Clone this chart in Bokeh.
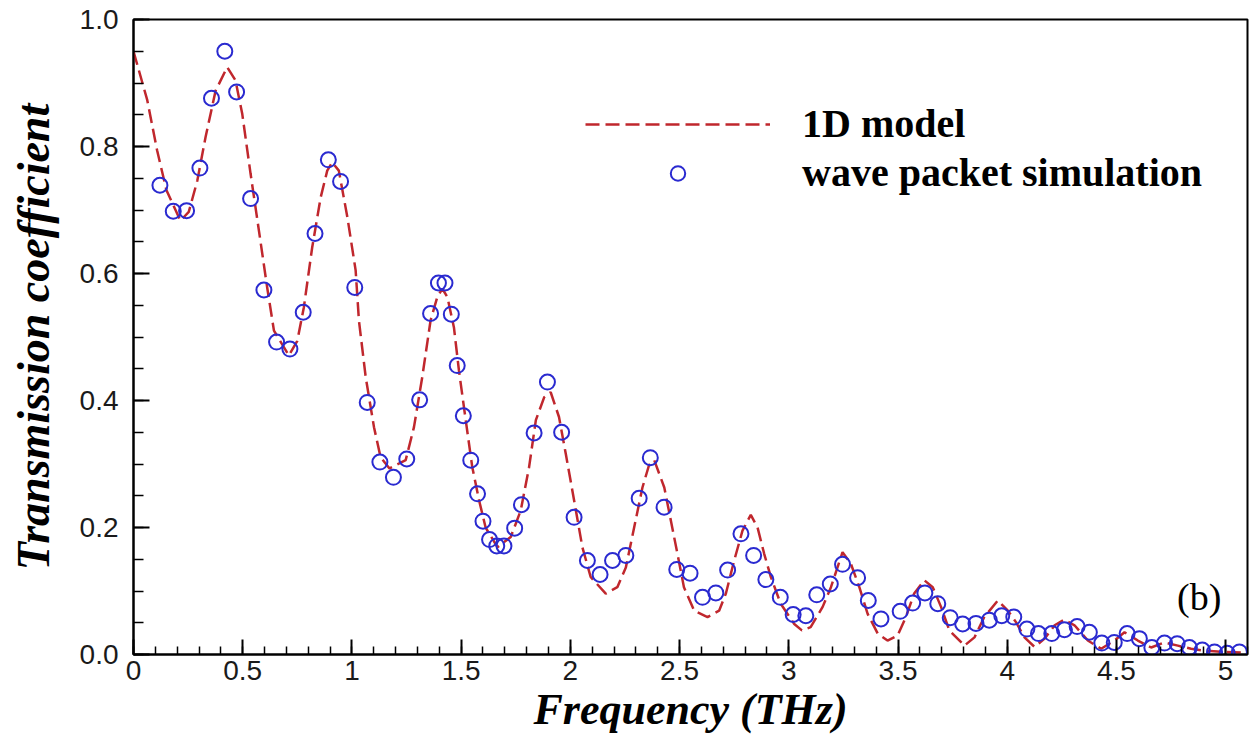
from bokeh.plotting import figure
from bokeh.models import FixedTicker, Legend, LegendItem, Label, ColumnDataSource
from bokeh.embed import file_html
from bokeh.resources import INLINE

# ---- data: wave packet simulation (circles) ----
sim_freq = [0.121, 0.182, 0.243, 0.304, 0.357, 0.418, 0.472, 0.536, 0.597, 0.655,
            0.716, 0.777, 0.831, 0.892, 0.948, 1.013, 1.070, 1.128, 1.190, 1.251,
            1.310, 1.360, 1.396, 1.426, 1.455, 1.482, 1.510, 1.544, 1.575, 1.600,
            1.630, 1.663, 1.696, 1.745, 1.776, 1.834, 1.895, 1.960, 2.017, 2.078,
            2.136, 2.193, 2.254, 2.315, 2.366, 2.429, 2.487, 2.548, 2.605, 2.666,
            2.720, 2.781, 2.839, 2.895, 2.961, 3.020, 3.078, 3.128, 3.190, 3.246,
            3.315, 3.364, 3.422, 3.510, 3.567, 3.623, 3.682, 3.739, 3.796, 3.857,
            3.918, 3.975, 4.030, 4.090, 4.143, 4.204, 4.262, 4.320, 4.376, 4.433,
            4.490, 4.549, 4.605, 4.662, 4.720, 4.778, 4.834, 4.893, 4.949, 5.007,
            5.063]
sim_trans = [0.739, 0.698, 0.699, 0.766, 0.876, 0.950, 0.886, 0.718, 0.574, 0.492,
             0.481, 0.539, 0.663, 0.779, 0.745, 0.578, 0.397, 0.303, 0.279, 0.308,
             0.401, 0.537, 0.585, 0.585, 0.536, 0.455, 0.376, 0.306, 0.253, 0.210,
             0.181, 0.171, 0.171, 0.199, 0.236, 0.349, 0.429, 0.350, 0.216, 0.148,
             0.126, 0.148, 0.156, 0.246, 0.310, 0.232, 0.134, 0.128, 0.090, 0.097,
             0.133, 0.190, 0.156, 0.118, 0.090, 0.063, 0.061, 0.094, 0.111, 0.142,
             0.121, 0.085, 0.056, 0.068, 0.081, 0.097, 0.080, 0.058, 0.048, 0.049,
             0.054, 0.061, 0.059, 0.040, 0.033, 0.033, 0.039, 0.044, 0.035, 0.018,
             0.019, 0.033, 0.025, 0.011, 0.018, 0.017, 0.011, 0.007, 0.004, 0.002,
             0.004]

# ---- data: 1D model (dashed line) ----
model_freq = [0.000, 0.063, 0.108, 0.151, 0.215, 0.253, 0.292, 0.330, 0.376, 0.429,
              0.467, 0.498, 0.536, 0.574, 0.612, 0.643, 0.711, 0.750, 0.780, 0.818,
              0.857, 0.887, 0.910, 0.940, 0.979, 1.017, 1.032, 1.063, 1.101, 1.131,
              1.172, 1.246, 1.284, 1.322, 1.360, 1.391, 1.414, 1.437, 1.467, 1.490,
              1.521, 1.551, 1.582, 1.612, 1.666, 1.727, 1.773, 1.811, 1.842, 1.880,
              1.910, 1.948, 1.979, 2.017, 2.055, 2.093, 2.162, 2.215, 2.254, 2.292,
              2.330, 2.360, 2.384, 2.430, 2.460, 2.490, 2.520, 2.567, 2.628, 2.681,
              2.712, 2.750, 2.788, 2.826, 2.857, 2.887, 2.918, 2.963, 3.025, 3.060,
              3.100, 3.155, 3.193, 3.246, 3.284, 3.323, 3.361, 3.407, 3.452, 3.498,
              3.536, 3.574, 3.620, 3.659, 3.697, 3.735, 3.804, 3.850, 3.895, 3.957,
              4.003, 4.040, 4.079, 4.125, 4.171, 4.217, 4.262, 4.308, 4.369, 4.430,
              4.491, 4.537, 4.598, 4.659, 4.720, 4.781, 4.842, 4.903, 4.995, 5.100]
model_trans = [0.950, 0.873, 0.794, 0.731, 0.683, 0.697, 0.746, 0.815, 0.888, 0.925,
               0.904, 0.851, 0.757, 0.668, 0.578, 0.510, 0.471, 0.494, 0.547, 0.641,
               0.720, 0.762, 0.775, 0.762, 0.689, 0.605, 0.526, 0.437, 0.358, 0.311,
               0.293, 0.306, 0.358, 0.437, 0.526, 0.563, 0.576, 0.563, 0.515, 0.447,
               0.369, 0.295, 0.243, 0.200, 0.169, 0.185, 0.227, 0.295, 0.369, 0.405,
               0.413, 0.374, 0.316, 0.243, 0.169, 0.122, 0.096, 0.106, 0.137, 0.200,
               0.263, 0.298, 0.306, 0.263, 0.211, 0.159, 0.106, 0.069, 0.059, 0.069,
               0.096, 0.148, 0.195, 0.220, 0.200, 0.159, 0.122, 0.080, 0.048, 0.038,
               0.043, 0.075, 0.106, 0.161, 0.143, 0.106, 0.064, 0.033, 0.022, 0.030,
               0.059, 0.096, 0.117, 0.106, 0.075, 0.038, 0.014, 0.027, 0.059, 0.085,
               0.069, 0.051, 0.027, 0.012, 0.025, 0.046, 0.055, 0.046, 0.022, 0.009,
               0.022, 0.035, 0.022, 0.011, 0.019, 0.014, 0.009, 0.006, 0.004, 0.003]

x_ticks = [0.0, 0.5, 1.0, 1.5, 2.0, 2.5, 3.0, 3.5, 4.0, 4.5, 5.0]
x_tick_labels = ["0", "0.5", "1", "1.5", "2", "2.5", "3", "3.5", "4", "4.5", "5"]
x_minor = [i / 10 for i in range(0, 52)]
y_ticks = [0.0, 0.2, 0.4, 0.6, 0.8, 1.0]
y_tick_labels = ["0.0", "0.2", "0.4", "0.6", "0.8", "1.0"]
y_minor = [i / 20 for i in range(0, 21)]

series_names = ["1D model", "wave packet simulation"]
x_title = "Frequency (THz)"
y_title = "Transmission coefficient"
panel_tag = "(b)"

LINE_RED = "#c0272d"
CIRCLE_BLUE = "#2a2ad0"
SERIF = "Liberation Serif"
SANS = "Liberation Sans"

p = figure(width=1252, height=740, output_backend="svg", toolbar_location=None,
           x_range=(0, 5.1), y_range=(0, 1.0),
           min_border_left=133, min_border_right=5, min_border_top=19, min_border_bottom=86)
p.background_fill_color = "white"
p.border_fill_color = "white"
p.grid.visible = False
p.outline_line_color = "black"
p.outline_line_width = 2

model_src = ColumnDataSource(dict(x=model_freq, y=model_trans))
sim_src = ColumnDataSource(dict(x=sim_freq, y=sim_trans))

r_line = p.line("x", "y", source=model_src, line_color=LINE_RED, line_width=2.5,
                line_dash="14 6")
r_sim = p.scatter("x", "y", source=sim_src, marker="circle", size=15,
                  fill_color=None, line_color=CIRCLE_BLUE, line_width=2)

# axes
xa = p.xaxis[0]
ya = p.yaxis[0]
xa.ticker = FixedTicker(ticks=x_ticks, minor_ticks=x_minor)
ya.ticker = FixedTicker(ticks=y_ticks, minor_ticks=y_minor)
xa.major_label_overrides = {t: l for t, l in zip(x_ticks, x_tick_labels)}
ya.major_label_overrides = {t: l for t, l in zip(y_ticks, y_tick_labels)}
for ax in (xa, ya):
    ax.axis_line_color = "black"
    ax.axis_line_width = 2
    ax.major_tick_line_color = "black"
    ax.major_tick_line_width = 2
    ax.minor_tick_line_color = "black"
    ax.minor_tick_line_width = 1.5
    ax.major_tick_out = 0
    ax.minor_tick_out = 0
    ax.major_label_text_font = SANS
    ax.major_label_text_font_size = "28px"
    ax.major_label_text_color = "#1a1a1a"
    ax.axis_label_text_font = SERIF
    ax.axis_label_text_font_style = "bold italic"
    ax.axis_label_text_color = "black"
xa.major_tick_in = 15
xa.minor_tick_in = 8
ya.major_tick_in = 16
ya.minor_tick_in = 10
xa.major_label_standoff = 6
ya.major_label_standoff = 15
xa.axis_label = x_title
ya.axis_label = y_title
xa.axis_label_text_font_size = "44px"
ya.axis_label_text_font_size = "46px"
xa.axis_label_standoff = 2
ya.axis_label_standoff = 18

# legend
legend = Legend(items=[LegendItem(label=series_names[0], renderers=[r_line]),
                       LegendItem(label=series_names[1], renderers=[r_sim])],
                location=(452, 457), orientation="vertical",
                glyph_width=185, glyph_height=36, label_height=49, label_width=300,
                label_standoff=32, spacing=0, padding=0, margin=0,
                label_text_font=SERIF, label_text_font_style="bold",
                label_text_font_size="40px", label_text_color="black",
                border_line_alpha=0, background_fill_alpha=0)
p.add_layout(legend, "center")

tag = Label(x=4.879, y=0.090, text=panel_tag, text_align="center", text_baseline="middle",
            text_font=SERIF, text_font_size="38px", text_color="black")
p.add_layout(tag)

open("out.html", "w").write(file_html(p, INLINE))
